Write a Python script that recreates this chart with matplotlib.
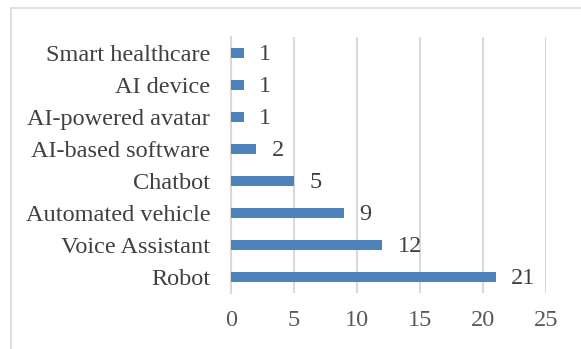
import matplotlib
matplotlib.use("Agg")
import matplotlib.pyplot as plt
from matplotlib.patches import Rectangle

categories = ["Robot", "Voice Assistant", "Automated vehicle", "Chatbot",
              "AI-based software", "AI-powered avatar", "AI device", "Smart healthcare"]
counts = [21, 12, 9, 5, 2, 1, 1, 1]
xticks = [0, 5, 10, 15, 20, 25]

plt.rcParams['font.family'] = ['Liberation Serif', 'DejaVu Serif']

W, H = 581, 349
fig = plt.figure(figsize=(W / 100, H / 100), dpi=100)
ax = fig.add_axes([231 / W, 1 - 293 / H, (546 - 231) / W, (293 - 37) / H])

bar_color = "#4f81bd"
grid_color = "#d9d9d9"
text_color = "#404040"

pos = list(range(len(categories)))
ax.barh(pos, counts, height=0.34, color=bar_color, zorder=3)
for y, v in zip(pos, counts):
    ax.annotate(str(v), xy=(v, y), xytext=(11, -1), textcoords="offset points",
                ha="left", va="center", fontsize=17.5, color=text_color)

ax.set_xlim(0, 25)
ax.set_ylim(-0.5, len(categories) - 0.5)
ax.set_xticks(xticks)
ax.set_yticks(pos)
ax.set_yticklabels(categories)
ax.tick_params(axis="both", length=0, labelsize=17.5, colors="#595959")
ax.tick_params(axis="x", pad=12.5)
ax.tick_params(axis="y", pad=15, labelcolor=text_color)
ax.xaxis.grid(True, color=grid_color, linewidth=1.5, zorder=0)
for s in ["top", "right", "bottom"]:
    ax.spines[s].set_visible(False)
ax.spines["left"].set_color(grid_color)
ax.spines["left"].set_linewidth(1.5)

# chart area border
fig.add_artist(Rectangle((11 / W, -0.1), 1.2, 1 - 8 / H + 0.1, transform=fig.transFigure,
                         fill=False, edgecolor=grid_color, linewidth=1.2))

fig.savefig("out.png", dpi=100)
